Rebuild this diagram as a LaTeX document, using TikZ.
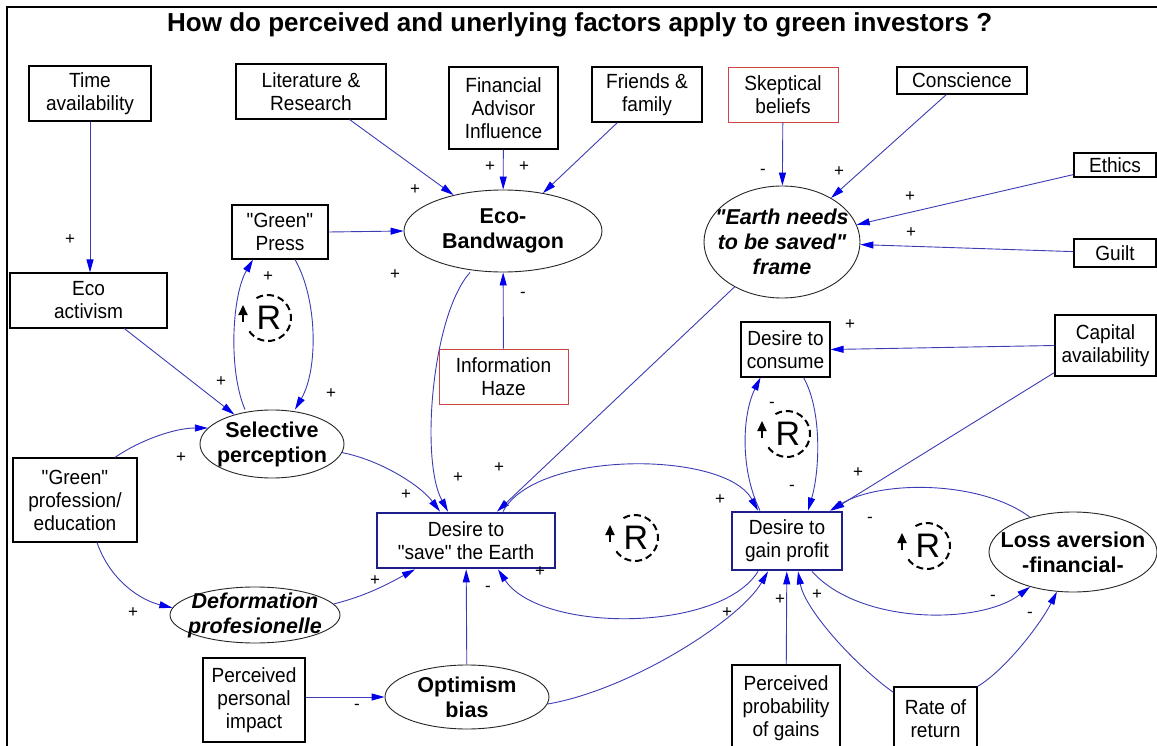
\documentclass[tikz,border=0pt]{standalone}
\usepackage{fontspec}
\setmainfont{Liberation Sans}[Ligatures=TeXOff]
\newfontfamily\boxfont{Liberation Sans}[Ligatures=TeXOff, FakeStretch=0.93]
\usetikzlibrary{arrows.meta,shapes.geometric}
\definecolor{lnblue}{RGB}{60,60,180}
\definecolor{tipblue}{RGB}{0,0,235}
\definecolor{navybox}{RGB}{30,30,140}
\definecolor{redbox}{RGB}{205,70,70}
\begin{document}
\begin{tikzpicture}[x=1pt,y=-1pt,
  box/.style={draw=black, line width=1.1pt, inner sep=0pt, align=center, font=\boxfont\fontsize{20.5}{23}\selectfont},
  redb/.style={box, draw=redbox, line width=0.9pt},
  keybox/.style={box, draw=navybox, line width=2.8pt},
  oval/.style={draw=black!85, ellipse, line width=0.9pt, inner sep=0pt},
  otext/.style={align=center, inner sep=0pt, font=\fontsize{21.5}{25}\selectfont\bfseries},
  oitext/.style={align=center, inner sep=0pt, font=\fontsize{21.5}{25}\selectfont\bfseries\itshape},
  conn/.style={draw=lnblue, line width=0.9pt, -{Triangle[length=13pt,width=7pt,color=tipblue]}},
  sign/.style={font=\fontsize{17}{17}\selectfont, inner sep=0pt},
  rtext/.style={font=\fontsize{34}{34}\selectfont, inner sep=0pt},
  loopdash/.style={dash pattern=on 7pt off 4pt, line width=2pt},
  looptip/.style={line width=1.8pt, -{Triangle[length=10pt,width=9pt]}}
]
\useasboundingbox (0,0) rectangle (1157,746);
\fill[white] (0,0) rectangle (1157,746);
\clip (0,0) rectangle (1157,746);
\draw[line width=2.2pt] (7,760) -- (7,7) -- (1170,7);

\node[font=\fontsize{26}{30}\selectfont\bfseries, anchor=base west, inner sep=0pt] (title) at (167,32) {How do perceived and unerlying factors apply to green investors ?};

% boxes
\node[box, minimum width=122pt, minimum height=55pt] (timeav) at (90,93.5) {Time\\availability};
\node[box, minimum width=150pt, minimum height=55pt] (litres) at (311,91.5) {Literature \&\\Research};
\node[box, minimum width=96pt, minimum height=54pt] (gpress) at (280,232) {"Green"\\Press};
\node[box, minimum width=109pt, minimum height=82pt] (finadv) at (503.5,108) {Financial\\Advisor\\Influence};
\node[box, minimum width=110pt, minimum height=55pt] (friends) at (647,94.5) {Friends \&\\family};
\node[redb, minimum width=110pt, minimum height=55pt] (skept) at (783,94.5) {Skeptical\\beliefs};
\node[box, minimum width=130pt, minimum height=27pt] (consc) at (962,80.5) {Conscience};
\node[box, minimum width=82pt, minimum height=24pt] (ethics) at (1115,165) {Ethics};
\node[box, minimum width=82pt, minimum height=28pt] (guilt) at (1115,253) {Guilt};
\node[box, minimum width=101pt, minimum height=61pt] (capital) at (1105.5,345.5) {Capital\\availability};
\node[box, minimum width=157pt, minimum height=55pt] (ecoact) at (88.5,300.5) {Eco\\activism};
\node[box, minimum width=124pt, minimum height=84pt] (gprof) at (75,500) {"Green"\\profession/\\education};
\node[redb, minimum width=129pt, minimum height=55pt] (infohaze) at (503.5,376.5) {Information\\Haze};
\node[box, minimum width=89pt, minimum height=55pt] (consume) at (785.5,349.5) {Desire to\\consume};
\node[box, minimum width=102pt, minimum height=84pt] (perimpact) at (254,700) {Perceived\\personal\\impact};
\node[box, minimum width=108pt, minimum height=87pt] (probgain) at (786,708.5) {Perceived\\probability\\of gains};
\node[box, minimum width=83pt, minimum height=63pt] (rateret) at (935.5,718.5) {Rate of\\return};
\node[keybox, minimum width=178pt, minimum height=55pt] (save) at (466,540.5) {Desire to\\"save" the Earth};
\node[keybox, minimum width=110pt, minimum height=58pt] (gain) at (787,541) {Desire to\\gain profit};

% ellipses
\node[oval, minimum width=198pt, minimum height=82pt] (ecoband) at (503,231) {};
\node[otext] (ecobandT) at (ecoband.center) {Eco-\\Bandwagon};
\node[oval, minimum width=156pt, minimum height=112pt] (earth) at (782,242) {};
\node[oitext] (earthT) at (earth.center) {"Earth needs\\to be saved"\\frame};
\node[oval, minimum width=144pt, minimum height=68pt] (selper) at (272,444) {};
\node[otext] (selperT) at (selper.center) {Selective\\perception};
\node[oval, minimum width=170pt, minimum height=56pt] (deform) at (255,615) {};
\node[oitext] (deformT) at (deform.center) {Deformation\\profesionelle};
\node[oval, minimum width=164pt, minimum height=64pt] (optim) at (467,697) {};
\node[otext] (optimT) at (optim.center) {Optimism\\bias};
\node[oval, minimum width=168pt, minimum height=80pt] (lossav) at (1073,552) {};
\node[otext] (lossavT) at (lossav.center) {Loss aversion\\-financial-};

% connectors
\draw[conn] (timeav) -- (timeav |- ecoact.north);
\draw[conn] (litres) -- (ecoband);
\draw[conn] (finadv) -- (ecoband);
\draw[conn] (friends) -- (ecoband);
\draw[conn] (gpress.east) -- (ecoband.west);
\draw[conn] (skept) -- (earth);
\draw[conn] (consc) -- (earth);
\draw[conn] (ethics) -- (earth);
\draw[conn] (guilt) -- (earth);
\draw[conn] (ecoact) -- (selper);
\draw[conn] ([xshift=-27pt]selper.north) .. controls (228,370) and (232,295) .. ([xshift=-27pt]gpress.south);
\draw[conn] ([xshift=15pt]gpress.south) .. controls (318,300) and (318,370) .. ([xshift=23pt]selper.north);
\draw[conn] (selper.353) .. controls (380,460) and (420,485) .. ([xshift=-26pt]save.north);
\draw[conn] ([xshift=-33pt]ecoband.south) .. controls (432,315) and (420,460) .. ([xshift=-18pt]save.north);
\draw[conn] (earth) -- ([xshift=31pt]save.north);
\draw[conn] (infohaze) -- (ecoband);
\draw[conn] ([xshift=40pt]gprof.north) .. controls (140,440) and (175,428) .. (selper.166);
\draw[conn] ([xshift=22pt]gprof.south) .. controls (110,580) and (140,600) .. (deform.175);
\draw[conn] (deform.8) .. controls (370,595) and (395,580) .. ([xshift=-51pt]save.south);
\draw[conn] (perimpact.east |- optim.west) -- (optim.west);
\draw[conn] (optim) -- (save);
\draw[conn] (optim.355) .. controls (630,690) and (740,620) .. ([xshift=-19pt]gain.south);
\draw[conn] ([xshift=37pt]save.north) .. controls (535,450) and (725,450) .. ([xshift=-29pt]gain.north);
\draw[conn] ([xshift=-29pt]gain.south) .. controls (720,633) and (540,633) .. ([xshift=32pt]save.south);
\draw[conn] ([xshift=-27pt]gain.north) .. controls (740,470) and (742,415) .. ([xshift=-25pt]consume.south);
\draw[conn] ([xshift=18pt]consume.south) .. controls (822,410) and (820,470) .. ([xshift=21pt]gain.north);
\draw[conn] (capital.west) -- (consume.east);
\draw[conn] ([yshift=-27pt]capital.west) -- ([xshift=-12pt]gain.north east);
\draw[conn] (lossav.141) .. controls (980,480) and (880,480) .. ([xshift=43pt]gain.north);
\draw[conn] ([xshift=25pt]gain.south) .. controls (860,625) and (980,625) .. (lossav.219);
\draw[conn] (rateret.north east) .. controls (1005,670) and (1040,625) .. (lossav.248);
\draw[conn] ([yshift=-6pt]rateret.north west) .. controls (855,665) and (805,610) .. ([xshift=11pt]gain.south);
\draw[conn] (probgain) -- (gain);

% polarity signs
\node[sign] (s01) at (70,240) {+};
\node[sign] (s02) at (415,190) {+};
\node[sign] (s03) at (490,167) {+};
\node[sign] (s04) at (524,167) {+};
\node[sign] (s05) at (395,275) {+};
\node[sign] (s06) at (763,172) {-};
\node[sign] (s07) at (839,172) {+};
\node[sign] (s08) at (910,197) {+};
\node[sign] (s09) at (911,233) {+};
\node[sign] (s10) at (221,382) {+};
\node[sign] (s11) at (268,277) {+};
\node[sign] (s12) at (331,394) {+};
\node[sign] (s13) at (181,458) {+};
\node[sign] (s14) at (133,613) {+};
\node[sign] (s15) at (375,581) {+};
\node[sign] (s16) at (357,707) {-};
\node[sign] (s17) at (406,495) {+};
\node[sign] (s18) at (458,478) {+};
\node[sign] (s19) at (499,468) {+};
\node[sign] (s20) at (523,295) {-};
\node[sign] (s21) at (720,500) {+};
\node[sign] (s22) at (540,572) {+};
\node[sign] (s23) at (488,589) {-};
\node[sign] (s24) at (727,613) {+};
\node[sign] (s25) at (780,600) {+};
\node[sign] (s26) at (817,595) {+};
\node[sign] (s27) at (993,598) {-};
\node[sign] (s28) at (1030,615) {-};
\node[sign] (s29) at (870,520) {-};
\node[sign] (s30) at (858,473) {+};
\node[sign] (s31) at (850,325) {+};
\node[sign] (s32) at (772,405) {-};
\node[sign] (s33) at (792,488) {-};

% reinforcing loop markers
\begin{scope}[shift={(268,318)}, y=1pt]
  \node[rtext] (rA) at (1,0) {R};
  \draw[loopdash] (120:23) arc[start angle=120, end angle=-150, radius=23];
  \draw[looptip] (-25,-4) -- (-25,13);
\end{scope}
\begin{scope}[shift={(787,434)}, y=1pt]
  \node[rtext] (rB) at (1,0) {R};
  \draw[loopdash] (120:23) arc[start angle=120, end angle=-150, radius=23];
  \draw[looptip] (-25,-4) -- (-25,13);
\end{scope}
\begin{scope}[shift={(635,538)}, y=1pt]
  \node[rtext] (rC) at (1,0) {R};
  \draw[loopdash] (120:23) arc[start angle=120, end angle=-150, radius=23];
  \draw[looptip] (-25,-4) -- (-25,13);
\end{scope}
\begin{scope}[shift={(927,546)}, y=1pt]
  \node[rtext] (rD) at (1,0) {R};
  \draw[loopdash] (120:23) arc[start angle=120, end angle=-150, radius=23];
  \draw[looptip] (-25,-4) -- (-25,13);
\end{scope}
\end{tikzpicture}
\end{document}
